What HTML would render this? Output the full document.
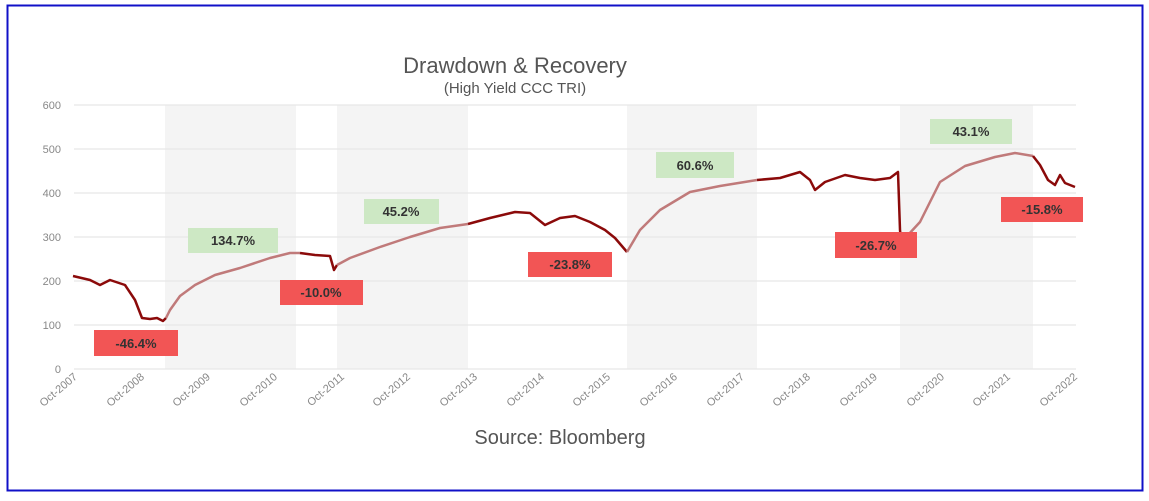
<!DOCTYPE html>
<html><head><meta charset="utf-8"><style>
body{margin:0;background:#fff;width:1149px;height:496px;overflow:hidden}
svg text{font-family:"Liberation Sans",sans-serif}
</style></head><body>
<svg width="1149" height="496" xmlns="http://www.w3.org/2000/svg">
<rect x="7.5" y="5.5" width="1135" height="485" fill="#fff" stroke="#1010c8" stroke-width="2"/>
<g fill="#f4f4f4">
<rect x="165" y="105" width="131" height="264"/>
<rect x="337" y="105" width="131" height="264"/>
<rect x="627" y="105" width="130" height="264"/>
<rect x="900" y="105" width="133" height="264"/>
</g>
<g stroke="#e8e8e8" stroke-width="1.2">
<line x1="74" x2="1076" y1="105" y2="105"/><line x1="74" x2="1076" y1="149" y2="149"/>
<line x1="74" x2="1076" y1="193" y2="193"/><line x1="74" x2="1076" y1="237" y2="237"/>
<line x1="74" x2="1076" y1="281" y2="281"/><line x1="74" x2="1076" y1="325" y2="325"/>
<line x1="74" x2="1076" y1="369" y2="369"/>
</g>
<g font-size="11" fill="#888" text-anchor="end">
<text x="61" y="109">600</text><text x="61" y="153">500</text><text x="61" y="197">400</text>
<text x="61" y="241">300</text><text x="61" y="285">200</text><text x="61" y="329">100</text><text x="61" y="373">0</text>
</g>
<g font-size="11" fill="#888" text-anchor="end">
<text transform="translate(78,378) rotate(-40)">Oct-2007</text>
<text transform="translate(145,378) rotate(-40)">Oct-2008</text>
<text transform="translate(211,378) rotate(-40)">Oct-2009</text>
<text transform="translate(278,378) rotate(-40)">Oct-2010</text>
<text transform="translate(345,378) rotate(-40)">Oct-2011</text>
<text transform="translate(411,378) rotate(-40)">Oct-2012</text>
<text transform="translate(478,378) rotate(-40)">Oct-2013</text>
<text transform="translate(545,378) rotate(-40)">Oct-2014</text>
<text transform="translate(611,378) rotate(-40)">Oct-2015</text>
<text transform="translate(678,378) rotate(-40)">Oct-2016</text>
<text transform="translate(745,378) rotate(-40)">Oct-2017</text>
<text transform="translate(811,378) rotate(-40)">Oct-2018</text>
<text transform="translate(878,378) rotate(-40)">Oct-2019</text>
<text transform="translate(945,378) rotate(-40)">Oct-2020</text>
<text transform="translate(1011,378) rotate(-40)">Oct-2021</text>
<text transform="translate(1078,378) rotate(-40)">Oct-2022</text>
</g>
<g fill="none" stroke-width="2.5" stroke-linejoin="round">
<polyline stroke="#8b0a0a" points="73,276 90,280 100,285 110,280 125,285 135,300 142,318 150,319 157,318 163,321 166,318"/>
<polyline stroke="#c07a7a" points="166,318 170,310 180,296 195,285 215,275 240,268 270,258 290,253 300,253"/>
<polyline stroke="#8b0a0a" points="300,253 315,255 330,256 334,270 337,265"/>
<polyline stroke="#c07a7a" points="337,265 350,258 380,247 410,237 440,228 468,224"/>
<polyline stroke="#8b0a0a" points="468,224 490,218 515,212 530,213 545,225 560,218 575,216 590,222 605,230 615,238 627,252"/>
<polyline stroke="#c07a7a" points="627,252 640,230 660,210 690,192 720,186 757,180"/>
<polyline stroke="#8b0a0a" points="757,180 780,178 800,172 810,180 815,190 825,182 845,175 860,178 875,180 890,178 898,172 900,230 902,250"/>
<polyline stroke="#c07a7a" points="902,250 908,235 920,222 940,182 965,166 995,157 1015,153 1033,156"/>
<polyline stroke="#8b0a0a" points="1033,156 1040,165 1048,180 1055,185 1060,175 1065,183 1075,187"/>
</g>
<g font-size="13" font-weight="bold" fill="#333" text-anchor="middle">
<rect x="94" y="330" width="84" height="26" fill="#f25555"/><text x="136" y="348">-46.4%</text>
<rect x="280" y="280" width="83" height="25" fill="#f25555"/><text x="321" y="297">-10.0%</text>
<rect x="528" y="252" width="84" height="25" fill="#f25555"/><text x="570" y="269">-23.8%</text>
<rect x="835" y="232" width="82" height="26" fill="#f25555"/><text x="876" y="250">-26.7%</text>
<rect x="1001" y="197" width="82" height="25" fill="#f25555"/><text x="1042" y="214">-15.8%</text>
<rect x="188" y="228" width="90" height="25" fill="#cde8c4"/><text x="233" y="245">134.7%</text>
<rect x="364" y="199" width="75" height="25" fill="#cde8c4"/><text x="401" y="216">45.2%</text>
<rect x="656" y="152" width="78" height="26" fill="#cde8c4"/><text x="695" y="170">60.6%</text>
<rect x="930" y="119" width="82" height="25" fill="#cde8c4"/><text x="971" y="136">43.1%</text>
</g>
<text x="515" y="73" font-size="22" fill="#555" text-anchor="middle">Drawdown &amp; Recovery</text>
<text x="515" y="93" font-size="15" fill="#555" text-anchor="middle">(High Yield CCC TRI)</text>
<text x="560" y="444" font-size="20" fill="#555" text-anchor="middle" font-family="DejaVu Sans, sans-serif">Source: Bloomberg</text>
</svg>
</body></html>
